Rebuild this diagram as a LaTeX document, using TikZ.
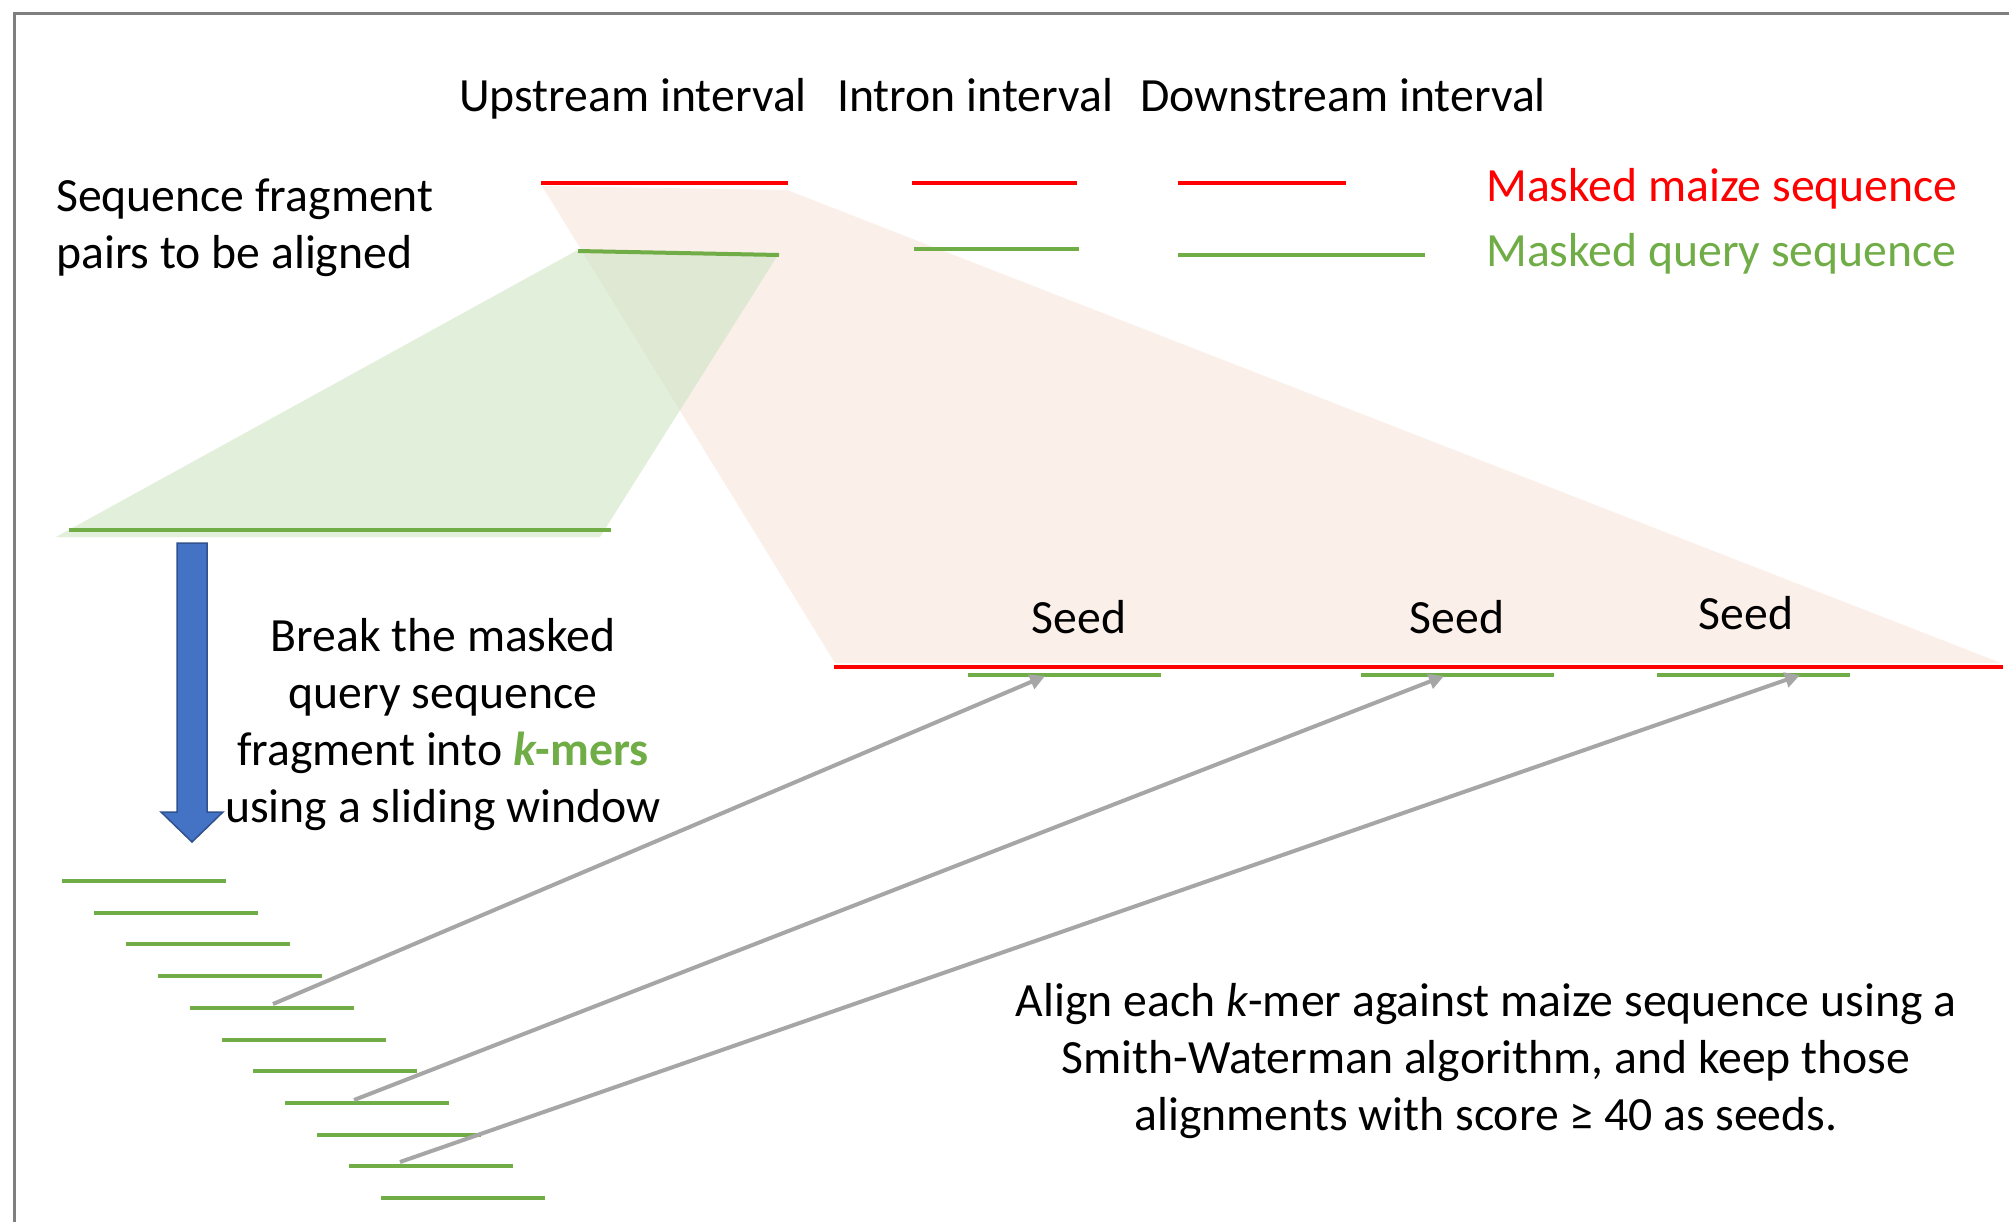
\documentclass[tikz,border=0pt]{standalone}
\usepackage{fontspec}
\setmainfont{Carlito}
\usetikzlibrary{arrows.meta}
\definecolor{mred}{HTML}{FF0000}
\definecolor{mgreen}{HTML}{70AD47}
\definecolor{pinkfill}{HTML}{FBEFEA}
\definecolor{greenfill}{HTML}{E2EFDA}
\definecolor{overlapfill}{HTML}{DFE8D3}
\definecolor{blueA}{HTML}{4472C4}
\definecolor{blueB}{HTML}{2F528F}
\definecolor{greyA}{HTML}{A6A6A6}
\definecolor{frameC}{HTML}{7F7F7F}
\begin{document}
\begin{tikzpicture}[x=1pt,y=-1pt,
  txt/.style={font=\fontsize{47.7}{57}\selectfont, inner sep=0pt, anchor=base},
  redseq/.style={draw=mred, line width=4pt},
  grnseq/.style={draw=mgreen, line width=4pt},
  garrow/.style={draw=greyA, line width=4pt, -{Triangle[length=15pt,width=15pt]}},
]
\useasboundingbox (0,0) rectangle (2009,1221);
\fill[white] (0,0) rectangle (2009,1221);
% frame
\draw[frameC, line width=3pt] (14,1225) -- (14,13) -- (2015,13);

% fans
\def\pinkpath{(542,186) -- (787,190) -- (2001,663) -- (835,663) -- cycle}
\def\greenpath{(576,251) -- (779,253) -- (600,537) -- (56,537) -- cycle}
\fill[pinkfill] \pinkpath;
\fill[greenfill] \greenpath;
\begin{scope}
  \clip \pinkpath;
  \fill[overlapfill] \greenpath;
\end{scope}

% top sequences
\draw[redseq] (541,183) -- (788,183);
\draw[redseq] (912,183) -- (1077,183);
\draw[redseq] (1178,183) -- (1346,183);
\draw[grnseq] (578,251) -- (779,255);
\draw[grnseq] (914,249) -- (1079,249);
\draw[grnseq] (1178,255) -- (1425,255);

% headings (base anchor of a multi-line node = last line's baseline)
\node[txt] (up) at (633,111) {Upstream interval};
\node[txt] (intron) at (975,111) {Intron interval};
\node[txt] (down) at (1343,111) {Downstream interval};
\node[txt, anchor=base west, align=left] (pairs) at (56,268) {Sequence fragment\\pairs to be aligned};
\node[txt, anchor=base west, text=mred] (lgmaize) at (1486,201) {Masked maize sequence};
\node[txt, anchor=base west, text=mgreen] (lgquery) at (1486,266) {Masked query sequence};

% expanded query fragment
\draw[grnseq] (69,530) -- (611,530);

% blue block arrow
\filldraw[fill=blueA, draw=blueB, line width=1.5pt]
  (177,543) -- (207,543) -- (207,812) -- (223,812) -- (192,842) -- (161,812) -- (177,812) -- cycle;

\node[txt, align=center] (breaktxt) at (443,822)
  {Break the masked\\query sequence\\fragment into {\color{mgreen}\bfseries\itshape k}{\color{mgreen}\bfseries -mers}\\using a sliding window};

% k-mers
\foreach \i in {0,...,10}{
  \draw[grnseq] ({62+31.9*\i},{881+31.7*\i}) -- ({226+31.9*\i},{881+31.7*\i});
}
\coordinate (k4) at (273,1004);
\coordinate (k7) at (354,1100);
\coordinate (k9) at (400,1162);

% maize expanded
\draw[redseq] (834,667) -- (2003,667);
\draw[grnseq] (968,675) -- (1161,675);
\draw[grnseq] (1361,675) -- (1554,675);
\draw[grnseq] (1657,675) -- (1850,675);
\coordinate (s1) at (1045,676);
\coordinate (s2) at (1444,676);
\coordinate (s3) at (1800,675);

\node[txt] (seed1) at (1079,633) {Seed};
\node[txt] (seed2) at (1457,633) {Seed};
\node[txt] (seed3) at (1746,629) {Seed};

% alignment arrows
\draw[garrow] (k4) -- (s1);
\draw[garrow] (k7) -- (s2);
\draw[garrow] (k9) -- (s3);

\node[txt, align=center] (aligntxt) at (1486,1130)
  {Align each \textit{k}-mer against maize sequence using a\\Smith-Waterman algorithm, and keep those\\alignments with score ≥ 40 as seeds.};
\end{tikzpicture}
\end{document}
